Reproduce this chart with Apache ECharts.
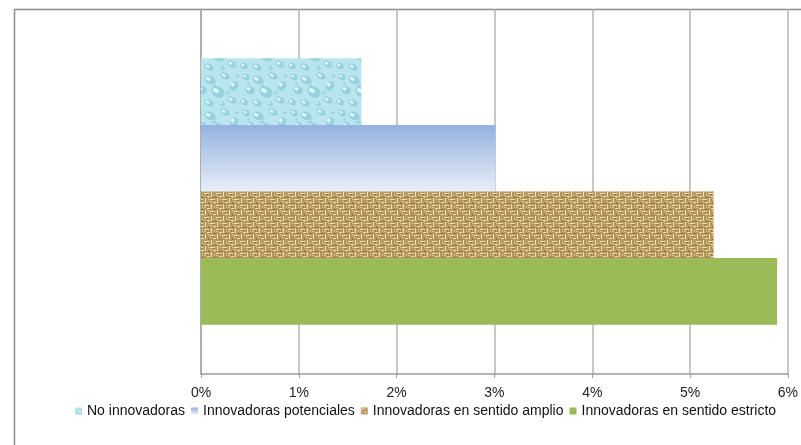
<!DOCTYPE html>
<html>
<head>
<meta charset="utf-8">
<script src="https://cdn.jsdelivr.net/npm/echarts@6/dist/echarts.min.js"></script>
<style>
  html, body { margin: 0; padding: 0; background: #fff; }
  #main { width: 801px; height: 445px; }
</style>
</head>
<body>
<div id="main"></div>
<script>
    // datos
    var categorias = [''];
    var nombres = ['No innovadoras', 'Innovadoras potenciales', 'Innovadoras en sentido amplio', 'Innovadoras en sentido estricto'];
    var noInnovadoras = [1.64];
    var potenciales = [3.01];
    var amplio = [5.24];
    var estricto = [5.89];
    var ticks = ['0%', '1%', '2%', '3%', '4%', '5%', '6%'];

    // textura de gotas de agua
    function gotas() {
        var c = document.createElement('canvas');
        c.width = 48; c.height = 36;
        var g = c.getContext('2d');
        g.fillStyle = '#b9e6ee';
        g.fillRect(0, 0, 48, 36);
        var d = [[6,5,4,3],[18,8,6,4],[33,4,5,3],[42,14,4,5],[10,18,5,4],[26,20,7,5],[40,28,5,3],[4,30,4,3],[17,31,5,3],[30,32,3,2],[22,13,2,2],[36,20,2,2],[8,11,2,1],[45,4,2,2]];
        d.forEach(function (p) {
            g.beginPath();
            g.ellipse(p[0], p[1], p[2], p[3], 0.5, 0, Math.PI * 2);
            g.fillStyle = '#95d2de';
            g.fill();
            g.beginPath();
            g.ellipse(p[0] - p[2] * 0.3, p[1] - p[3] * 0.3, p[2] * 0.45, p[3] * 0.4, 0.5, 0, Math.PI * 2);
            g.fillStyle = '#e4f7fa';
            g.fill();
        });
        return c;
    }

    // textura de arpillera
    function arpillera() {
        var c = document.createElement('canvas');
        c.width = 12; c.height = 12;
        var g = c.getContext('2d');
        g.fillStyle = '#b5965f';
        g.fillRect(0, 0, 12, 12);
        g.fillStyle = '#f2e0b0';
        g.fillRect(0, 1, 5, 1); g.fillRect(6, 7, 5, 1);
        g.fillRect(1, 6, 1, 5); g.fillRect(7, 0, 1, 5);
        g.fillRect(3, 4, 3, 1); g.fillRect(9, 10, 3, 1);
        g.fillStyle = '#dcc08a';
        g.fillRect(0, 3, 2, 1); g.fillRect(6, 9, 2, 1);
        g.fillRect(4, 6, 1, 2); g.fillRect(10, 2, 1, 2);
        g.fillStyle = '#7a5a2c';
        g.fillRect(3, 2, 1, 1); g.fillRect(9, 8, 1, 1);
        g.fillRect(10, 5, 1, 1); g.fillRect(4, 11, 1, 1);
        return c;
    }

    var colGotas = { image: gotas(), repeat: 'repeat' };
    var colArpillera = { image: arpillera(), repeat: 'repeat' };
    var colPotenciales = new echarts.graphic.LinearGradient(0, 0, 0, 1, [
        { offset: 0, color: '#94b2e0' },
        { offset: 1, color: '#e8eef9' }
    ]);

    var myChart = echarts.init(document.getElementById('main'));

    var option = {
        animation: false,
        grid: { left: 201, right: 7, top: 9, bottom: 71 },
        graphic: [{
            type: 'rect',
            shape: { x: 14.5, y: 9.5, width: 800, height: 450 },
            style: { fill: null, stroke: '#8c8c8c', lineWidth: 1.5 },
            z: -1
        }],
        legend: {
            bottom: 22,
            left: 70,
            icon: 'rect',
            itemWidth: 7,
            itemHeight: 7,
            itemGap: 6,
            data: nombres,
            textStyle: { fontFamily: 'Liberation Sans, Arial', fontSize: 14, color: '#111' }
        },
        xAxis: {
            type: 'value',
            min: 0,
            max: 6,
            interval: 1,
            axisLine: { show: true, lineStyle: { color: '#9a9a9a', width: 1.5 } },
            axisTick: { show: true, length: 4, lineStyle: { color: '#9a9a9a' } },
            axisLabel: {
                margin: 12,
                fontFamily: 'Liberation Sans, Arial',
                fontSize: 14,
                color: '#222',
                formatter: function (v) { return ticks[v]; }
            },
            splitLine: { show: true, lineStyle: { color: '#b4b4b4', width: 1.5 } }
        },
        yAxis: {
            type: 'category',
            data: categorias,
            inverse: true,
            axisLine: { show: true, lineStyle: { color: '#a6a6a6', width: 1.5 } },
            axisTick: { show: false },
            axisLabel: { show: false }
        },
        series: [
            { name: nombres[0], type: 'bar', data: noInnovadoras, barGap: 0, barCategoryGap: '27%', itemStyle: { color: colGotas } },
            { name: nombres[1], type: 'bar', data: potenciales, itemStyle: { color: colPotenciales } },
            { name: nombres[2], type: 'bar', data: amplio, itemStyle: { color: colArpillera } },
            { name: nombres[3], type: 'bar', data: estricto, itemStyle: { color: '#9bbb59' } }
        ]
    };

    myChart.setOption(option);
</script>
</body>
</html>
